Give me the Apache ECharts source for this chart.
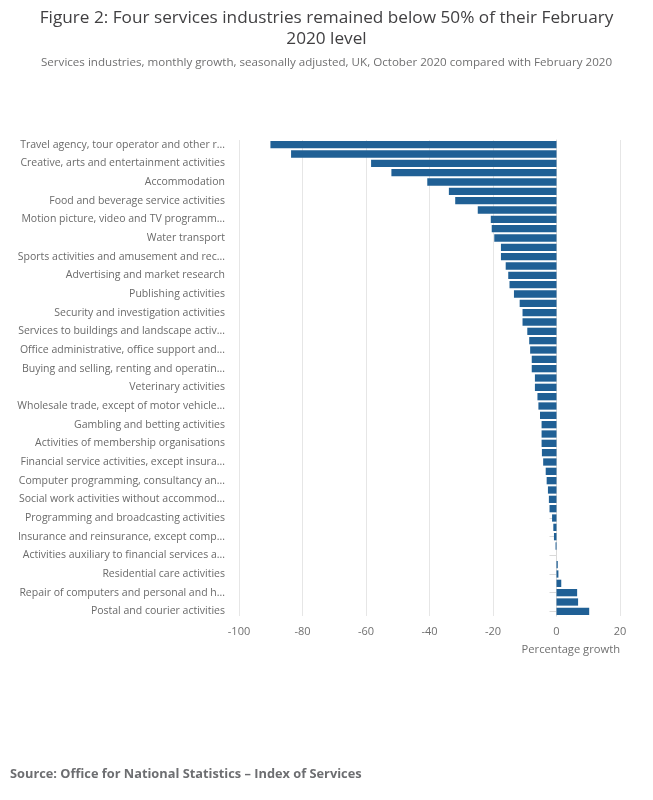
<!DOCTYPE html>
<html>
<head>
<meta charset="utf-8">
<script src="https://cdn.jsdelivr.net/npm/echarts@6/dist/echarts.min.js"></script>
<style>
html,body{margin:0;padding:0;background:#fff;}
#chart{width:653px;height:800px;}
</style>
</head>
<body>
<div id="chart"></div>
<script>
var categories = [
  "Travel agency, tour operator and other r...",
  "Air transport",
  "Creative, arts and entertainment activities",
  "Libraries, archives, museums and other...",
  "Accommodation",
  "Other personal service activities",
  "Food and beverage service activities",
  "Rental and leasing activities",
  "Motion picture, video and TV programm...",
  "Employment activities",
  "Water transport",
  "Land transport and transport via pipelines",
  "Sports activities and amusement and rec...",
  "Education",
  "Advertising and market research",
  "Architectural and engineering activities",
  "Publishing activities",
  "Activities of households as employers",
  "Security and investigation activities",
  "Legal and accounting activities",
  "Services to buildings and landscape activ...",
  "Other professional, scientific and tech...",
  "Office administrative, office support and...",
  "Real estate activities on a fee or contr...",
  "Buying and selling, renting and operatin...",
  "Activities of head offices",
  "Veterinary activities",
  "Wholesale and retail trade and repair o...",
  "Wholesale trade, except of motor vehicle...",
  "Human health activities",
  "Gambling and betting activities",
  "Warehousing and support activities for t...",
  "Activities of membership organisations",
  "Information service activities",
  "Financial service activities, except insura...",
  "Telecommunications",
  "Computer programming, consultancy an...",
  "Scientific research and development",
  "Social work activities without accommod...",
  "Public administration and defence",
  "Programming and broadcasting activities",
  "Imputed rental of owner-occupiers",
  "Insurance and reinsurance, except comp...",
  "Real estate activities, excluding imputed...",
  "Activities auxiliary to financial services a...",
  "Legal activities",
  "Residential care activities",
  "Human health and social work",
  "Repair of computers and personal and h...",
  "Retail trade, except of motor vehicles a...",
  "Postal and courier activities"
];
var growth = [
  -90.1, -83.6, -58.4, -52.0, -40.7, -33.9, -31.9, -24.8, -20.7, -20.4,
  -19.6, -17.5, -17.5, -16.0, -15.2, -14.8, -13.4, -11.6, -10.7, -10.7,
  -9.2, -8.6, -8.3, -7.8, -7.8, -6.8, -6.8, -6.0, -5.7, -5.2,
  -4.7, -4.7, -4.7, -4.6, -4.2, -3.4, -3.1, -2.7, -2.4, -2.2,
  -1.4, -1.0, -0.8, -0.3, 0.0, 0.4, 0.6, 1.5, 6.5, 6.8,
  10.3
];
var xTicks = { min: -100, max: 20, interval: 20 };

var chart = echarts.init(document.getElementById('chart'), null, {renderer: 'canvas'});
var FONT = '"Open Sans", "Noto Sans", sans-serif';
chart.setOption({
  animation: false,
  backgroundColor: '#fff',
  textStyle: { fontFamily: FONT },
  title: [
    {
      text: 'Figure 2: Four services industries remained below 50% of their February',
      left: 'center', top: 5,
      textStyle: { fontFamily: FONT, fontSize: 17.2, fontWeight: 'normal', color: '#414042' }
    },
    {
      text: '2020 level',
      left: 'center', top: 26,
      textStyle: { fontFamily: FONT, fontSize: 17.2, fontWeight: 'normal', color: '#414042' }
    },
    {
      text: 'Services industries, monthly growth, seasonally adjusted, UK, October 2020 compared with February 2020',
      left: 'center', top: 52,
      textStyle: { fontFamily: FONT, fontSize: 11.6, fontWeight: 'normal', color: '#707071' }
    },
    {
      text: 'Source: Office for National Statistics \u2013 Index of Services',
      left: 10, top: 768, padding: 0,
      textStyle: { fontFamily: FONT, fontSize: 12.8, fontWeight: 'bold', color: '#6d6e71' }
    }
  ],
  grid: { left: 239, right: 33, top: 140, height: 476, containLabel: false },
  xAxis: {
    type: 'value',
    min: xTicks.min, max: xTicks.max, interval: xTicks.interval,
    axisLine: { show: false },
    axisTick: { show: false },
    axisLabel: { color: '#707070', fontSize: 11, margin: 10, fontFamily: FONT },
    splitLine: { show: true, lineStyle: { color: '#e6e6e6', width: 1 } },
    name: 'Percentage growth',
    nameLocation: 'end',
    nameGap: 0,
    nameTextStyle: { color: '#707070', fontSize: 11.2, align: 'right', verticalAlign: 'top', padding: [28, 0, 0, 0], fontFamily: FONT }
  },
  yAxis: {
    type: 'category',
    inverse: true,
    data: categories,
    axisLine: { show: true, lineStyle: { color: '#d9d9d9' } },
    axisTick: { show: true, interval: 1, alignWithLabel: true, length: 7, lineStyle: { color: '#d9d9d9' } },
    axisLabel: { interval: 1, color: '#6a6a6a', fontSize: 10.5, margin: 14, fontFamily: FONT },
    splitLine: { show: false }
  },
  series: [{
    type: 'bar',
    data: growth,
    barCategoryGap: '22%',
    itemStyle: { color: '#206095' }
  }]
});
</script>
</body>
</html>
